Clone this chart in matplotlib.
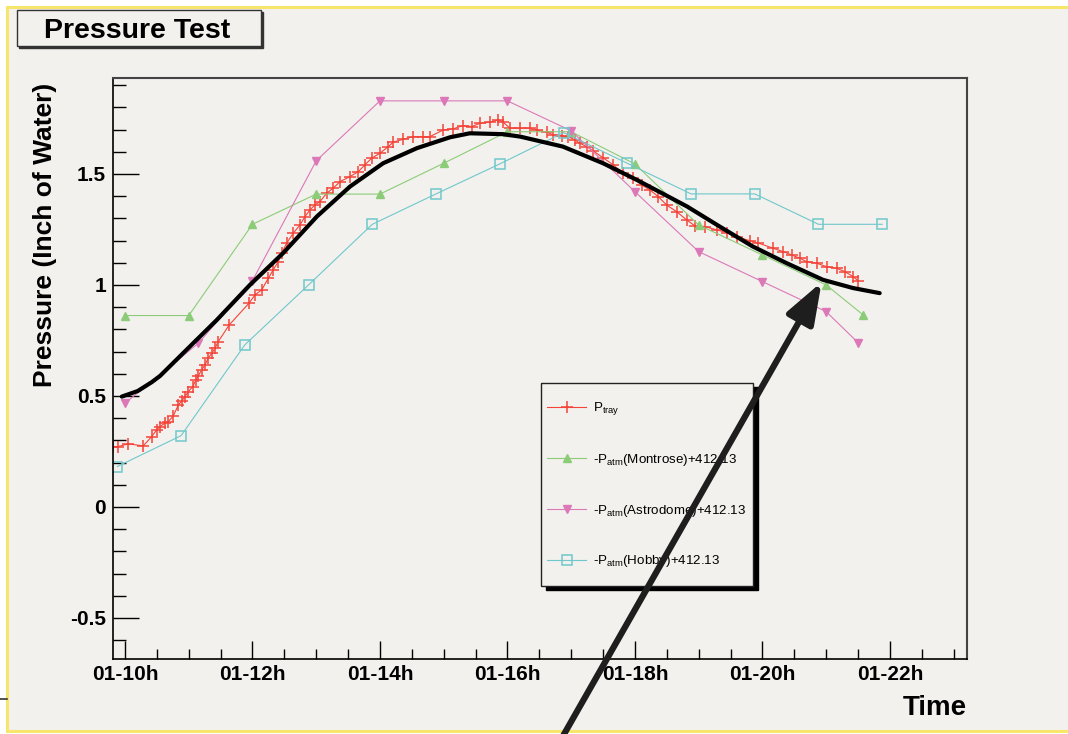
import matplotlib.pyplot as plt
from matplotlib.lines import Line2D
from matplotlib.patches import Rectangle

plt.rcParams['font.family'] = ['Liberation Sans', 'DejaVu Sans']
plt.rcParams['mathtext.fontset'] = 'custom'
plt.rcParams['mathtext.rm'] = 'Liberation Sans'
plt.rcParams['mathtext.it'] = 'Liberation Sans:italic'
plt.rcParams['mathtext.bf'] = 'Liberation Sans:bold'

# time in hours (01-10h -> 10), pressure in inch of water
tray_t = [9.816, 9.895, 10.052, 10.287, 10.419, 10.497, 10.549, 10.627, 10.679, 10.758,
          10.836, 10.889, 10.941, 10.993, 11.062, 11.114, 11.150, 11.203, 11.255, 11.307,
          11.360, 11.412, 11.464, 11.636, 11.950, 12.039, 12.144, 12.248, 12.326, 12.405,
          12.458, 12.536, 12.640, 12.745, 12.824, 12.902, 12.980, 13.059, 13.164, 13.267,
          13.373, 13.529, 13.660, 13.765, 13.870, 14.000, 14.130, 14.209, 14.365, 14.522,
          14.679, 14.784, 14.993, 15.150, 15.307, 15.438, 15.569, 15.725, 15.856, 15.934,
          16.039, 16.196, 16.353, 16.458, 16.615, 16.718, 16.850, 16.954, 17.059, 17.137,
          17.242, 17.346, 17.503, 17.660, 17.816, 17.973, 18.105, 18.235, 18.365, 18.497,
          18.654, 18.811, 18.941, 19.098, 19.282, 19.438, 19.595, 19.804, 19.934, 20.169,
          20.326, 20.458, 20.588, 20.693, 20.850, 21.007, 21.164, 21.294, 21.424, 21.503]
tray_p = [0.272, 0.272, 0.284, 0.275, 0.317, 0.347, 0.362, 0.377, 0.384, 0.410,
          0.459, 0.477, 0.497, 0.519, 0.542, 0.572, 0.590, 0.617, 0.640, 0.670,
          0.692, 0.715, 0.745, 0.820, 0.919, 0.955, 0.977, 1.030, 1.068, 1.105,
          1.143, 1.188, 1.233, 1.270, 1.308, 1.338, 1.360, 1.375, 1.413, 1.436,
          1.465, 1.488, 1.510, 1.541, 1.571, 1.593, 1.623, 1.643, 1.656, 1.668,
          1.668, 1.668, 1.698, 1.703, 1.718, 1.713, 1.728, 1.733, 1.743, 1.733,
          1.706, 1.706, 1.706, 1.698, 1.688, 1.676, 1.672, 1.668, 1.653, 1.638,
          1.623, 1.604, 1.572, 1.541, 1.503, 1.481, 1.450, 1.428, 1.398, 1.360,
          1.330, 1.293, 1.266, 1.263, 1.248, 1.236, 1.218, 1.199, 1.189, 1.165,
          1.150, 1.135, 1.120, 1.105, 1.098, 1.082, 1.075, 1.060, 1.037, 1.019]

montrose_t = [10, 11, 12, 13, 14, 15, 16, 17, 18, 19, 20, 21, 21.58]
montrose_p = [0.862, 0.862, 1.273, 1.409, 1.409, 1.548, 1.690, 1.690, 1.545, 1.270, 1.135, 1.000, 0.865]

astro_t = [10, 11.15, 12, 13, 14, 15, 16, 17, 18, 19, 20, 21, 21.5]
astro_p = [0.467, 0.737, 1.019, 1.559, 1.829, 1.829, 1.829, 1.694, 1.420, 1.150, 1.015, 0.880, 0.740]

hobby_t = [9.88, 10.88, 11.88, 12.88, 13.88, 14.88, 15.88, 16.88, 17.88, 18.88, 19.88, 20.88, 21.88]
hobby_p = [0.182, 0.321, 0.730, 1.000, 1.273, 1.410, 1.545, 1.686, 1.548, 1.410, 1.410, 1.273, 1.273]

# hand-drawn trend line
fit_t = [9.95, 10.20, 10.42, 10.55, 10.91, 11.44, 11.96, 12.48, 13.01, 13.53, 14.05, 14.58, 15.10,
         15.41, 15.93, 16.20, 16.87, 17.50, 18.03, 18.82, 19.33, 19.85, 20.38, 20.95, 21.42, 21.84]
fit_p = [0.497, 0.522, 0.562, 0.590, 0.692, 0.842, 1.000, 1.143, 1.308, 1.443, 1.548, 1.616, 1.665,
         1.683, 1.679, 1.668, 1.623, 1.548, 1.473, 1.353, 1.263, 1.173, 1.098, 1.023, 0.986, 0.963]

xtick_pos = [10, 12, 14, 16, 18, 20, 22]
xtick_lab = ['01-10h', '01-12h', '01-14h', '01-16h', '01-18h', '01-20h', '01-22h']
ytick_pos = [-0.5, 0, 0.5, 1, 1.5]
ytick_lab = ['-0.5', '0', '0.5', '1', '1.5']

labels = ['P$_{\\mathrm{tray}}$',
          '-P$_{\\mathrm{atm}}$(Montrose)+412.13',
          '-P$_{\\mathrm{atm}}$(Astrodome)+412.13',
          '-P$_{\\mathrm{atm}}$(Hobby)+412.13']

bg = '#f2f1ed'
red = '#f4443a'
green = '#8ccc78'
pink = '#dc78b8'
cyan = '#70c8cc'

W, H = 1068, 734
fig = plt.figure(figsize=(W / 100, H / 100), dpi=100, facecolor='white')

# canvas with yellow border
fig.add_artist(Rectangle((7 / W, 1 - 731 / H), 1.2, 724 / H, transform=fig.transFigure,
                         facecolor=bg, edgecolor='#f7e56c', lw=2.2, zorder=-5))
fig.add_artist(Line2D([0, 7 / W], [1 - 699 / H] * 2, color='#333333', lw=1.2))

ax = fig.add_axes([113 / W, 1 - 659 / H, 854 / W, 581 / H])
ax.set_facecolor(bg)

ax.plot(tray_t, tray_p, color=red, lw=0.8, marker='+', ms=9, mew=1.1, label=labels[0], zorder=2)
ax.plot(montrose_t, montrose_p, color=green, lw=0.8, marker='^', ms=6, label=labels[1], zorder=2)
ax.plot(astro_t, astro_p, color=pink, lw=0.8, marker='v', ms=6, label=labels[2], zorder=2)
ax.plot(hobby_t, hobby_p, color=cyan, lw=0.8, marker='s', ms=7.5, mfc='none', mew=1.1,
        label=labels[3], zorder=2)
ax.plot(fit_t, fit_p, color='black', lw=3, solid_capstyle='round', solid_joinstyle='round', zorder=3)

ax.set_xlim(9.812, 23.21)
ax.set_ylim(-0.685, 1.932)

ax.set_xticks(xtick_pos)
ax.set_xticklabels(xtick_lab, fontsize=15, fontweight='bold')
ax.set_xticks([t / 2 for t in range(20, 47)], minor=True)
ax.set_yticks(ytick_pos)
ax.set_yticklabels(ytick_lab, fontsize=15, fontweight='bold')
ax.set_yticks([t / 10 for t in range(-6, 20)], minor=True)
ax.tick_params(axis='x', which='major', direction='in', length=13, width=1, pad=4)
ax.tick_params(axis='x', which='minor', direction='in', length=7, width=1)
ax.tick_params(axis='y', which='major', direction='in', length=18.5, width=1, pad=5)
ax.tick_params(axis='y', which='minor', direction='in', length=9, width=1)

for s in ['top', 'right']:
    ax.spines[s].set_color('#444444')
    ax.spines[s].set_linewidth(1.5)
for s in ['left', 'bottom']:
    ax.spines[s].set_color('black')
    ax.spines[s].set_linewidth(1.2)

# legend box with shadow
lx, ly = 428 / 854, 73 / 581
lw_, lh = 212 / 854, 203 / 581
ax.add_patch(Rectangle((lx + 5 / 854, ly - 4 / 581), lw_, lh, transform=ax.transAxes,
                       facecolor='black', edgecolor='black', zorder=4))
ax.add_patch(Rectangle((lx, ly), lw_, lh, transform=ax.transAxes,
                       facecolor=bg, edgecolor='#222222', lw=1, zorder=4.1))
leg = ax.legend(loc='upper left', bbox_to_anchor=(429 / 854, 264 / 581), frameon=False,
                fontsize=9.6, numpoints=1, handlelength=2.9, handletextpad=0.55,
                borderpad=0.4, labelspacing=2.6, borderaxespad=0)
leg.set_zorder(5)

# title box
fig.add_artist(Rectangle((18.5 / W, 1 - 47.5 / H), 244 / W, 36 / H, transform=fig.transFigure,
                         facecolor='#333333', edgecolor='#333333', lw=1))
fig.add_artist(Rectangle((17 / W, 1 - 46 / H), 244 / W, 36 / H, transform=fig.transFigure,
                         facecolor=bg, edgecolor='#333333', lw=1))
fig.text(137 / W, 1 - 31 / H, 'Pressure Test', fontsize=20.5, fontweight='bold',
         ha='center', va='center')

fig.text(45 / W, 1 - 235 / H, 'Pressure (Inch of Water)', fontsize=19, fontweight='bold',
         rotation=90, ha='center', va='center')
fig.text(967 / W, 1 - 708 / H, 'Time', fontsize=20, fontweight='bold', ha='right', va='center')

# arrow pointing at the curve
ax.annotate('', xy=(20.93, 1.013), xycoords='data', xytext=(563, -2), textcoords='figure pixels',
            arrowprops=dict(arrowstyle='-|>,head_length=1.25,head_width=0.45', lw=4.5,
                            color='#1e1e1e', shrinkA=0, shrinkB=0, mutation_scale=20),
            annotation_clip=False, zorder=10)

fig.savefig('out.png', dpi=100, facecolor='white')
